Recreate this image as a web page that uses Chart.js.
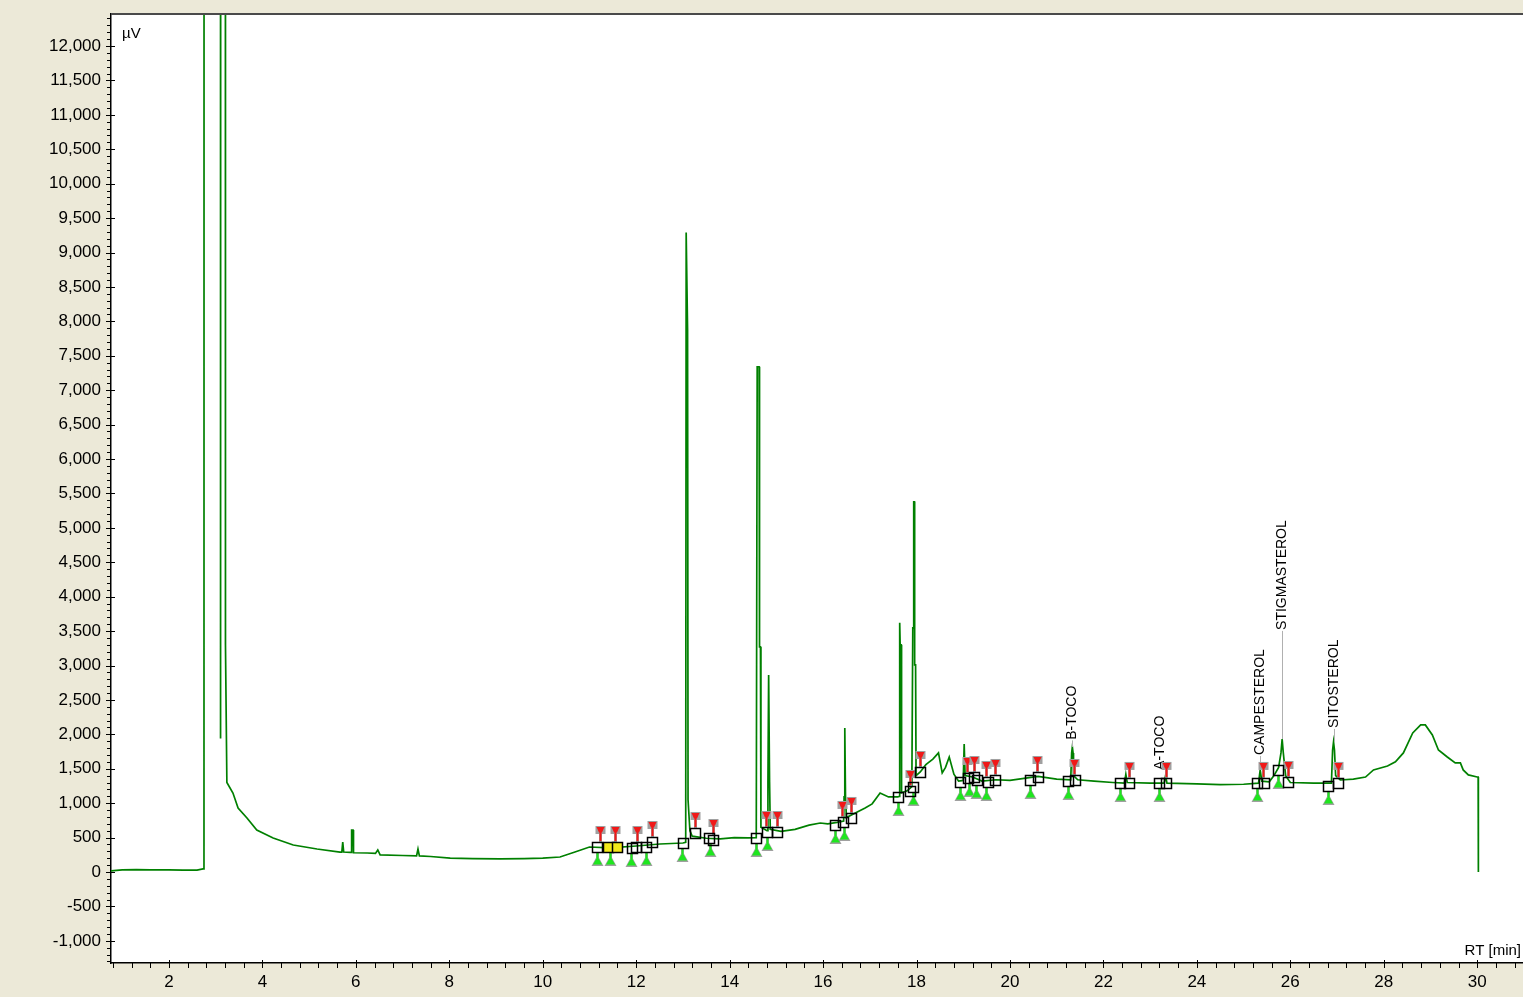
<!DOCTYPE html>
<html lang="en">
	<head>
		<meta charset="utf-8" />
		<title>Chromatogram</title>
		<script src="https://cdn.jsdelivr.net/npm/chart.js@4.4.1/dist/chart.umd.min.js"></script>
		<style>
			body { margin: 0; background: #ECE9D8; }
			canvas { display: block; }
		</style>
	</head>
	<body>

		<canvas id="myChart" width="1523" height="997"></canvas>
		<script type="text/javascript">

			// retention time (min) and signal (uV)
			const traceRT = [
				0.76, 1.0, 1.3, 1.6, 2.0, 2.3, 2.6, 2.73, 2.75, 2.755,
				3.10, 3.105, 3.115, 3.20, 3.21, 3.24, 3.37, 3.48, 3.67, 3.88,
				4.23, 4.66, 5.17, 5.66, 5.70, 5.72, 5.74, 5.88, 5.90, 5.91,
				5.94, 5.95, 6.24, 6.42, 6.47, 6.52, 7.0, 7.30, 7.33, 7.36,
				7.6, 8.02, 8.5, 9.09, 9.6, 10.0, 10.37, 10.69, 11.0, 11.44,
				12.0, 12.51, 13.0, 13.06, 13.07, 13.10, 13.11, 13.15, 13.2, 13.5,
				13.8, 14.1, 14.4, 14.57, 14.59, 14.63, 14.64, 14.66, 14.67, 14.80,
				14.82, 14.835, 14.855, 14.87, 15.1, 15.4, 15.7, 15.94, 16.1, 16.3,
				16.44, 16.45, 16.465, 16.48, 16.50, 16.7, 16.9, 17.05, 17.22, 17.4,
				17.6, 17.63, 17.64, 17.65, 17.67, 17.68, 17.8, 17.9, 17.92, 17.935,
				17.94, 17.955, 17.96, 17.98, 17.99, 18.08, 18.2, 18.35, 18.47, 18.55,
				18.62, 18.70, 18.80, 18.9, 19.0, 19.02, 19.04, 19.2, 19.4, 19.7,
				20.0, 20.3, 20.6, 21.0, 21.3, 21.32, 21.335, 21.35, 21.36, 21.45,
				21.8, 22.2, 22.45, 22.48, 22.51, 23.0, 23.3, 23.33, 23.36, 24.0,
				24.5, 25.0, 25.32, 25.355, 25.39, 25.55, 25.65, 25.75, 25.80, 25.825,
				25.85, 25.90, 26.0, 26.5, 26.88, 26.905, 26.925, 26.945, 26.97, 27.07,
				27.35, 27.61, 27.78, 28.08, 28.25, 28.42, 28.62, 28.79, 28.89, 29.04,
				29.17, 29.36, 29.53, 29.64, 29.70, 29.81, 30.0, 30.02, 30.025
			];
			const traceUV = [
				15, 30, 35, 32, 30, 28, 28, 45, 60, 60000,
				60000, 1940, 60000, 60000, 3300, 1300, 1148, 930, 785, 610,
				494, 392, 334, 290, 290, 436, 290, 285, 285, 610,
				610, 280, 276, 270, 320, 250, 240, 235, 334, 233,
				225, 203, 195, 190, 195, 203, 218, 290, 363, 350,
				378, 407, 421, 430, 9290, 7880, 1050, 600, 520, 490,
				480, 500, 495, 500, 7340, 7340, 3270, 3270, 650, 600,
				1308, 2863, 1308, 620, 590, 620, 680, 712, 700, 720,
				740, 1090, 2093, 1090, 790, 860, 930, 990, 1148, 1090,
				1090, 1100, 3620, 3300, 3300, 1150, 1180, 1240, 3546, 3546,
				5378, 5378, 3010, 3010, 1400, 1453, 1560, 1640, 1730, 1440,
				1520, 1670, 1420, 1320, 1330, 1860, 1400, 1380, 1320, 1340,
				1330, 1360, 1390, 1350, 1340, 1730, 1817, 1730, 1400, 1340,
				1320, 1300, 1290, 1420, 1300, 1290, 1290, 1400, 1290, 1280,
				1270, 1275, 1290, 1483, 1320, 1310, 1400, 1520, 1730, 1930,
				1730, 1400, 1300, 1290, 1290, 1773, 1890, 1773, 1400, 1337,
				1350, 1380, 1483, 1540, 1600, 1730, 2020, 2137, 2137, 1990,
				1773, 1671, 1584, 1584, 1483, 1410, 1380, 1380, 0
			];

			// integration boxes
			const boxRT = [11.16, 11.40, 11.59, 11.91, 12.00, 12.21, 12.34, 13.00, 13.26, 13.56,
				13.65, 14.57, 14.81, 15.02, 16.26, 16.43, 16.60, 17.61, 17.85, 17.93,
				18.08, 18.94, 19.11, 19.22, 19.30, 19.52, 19.69, 20.42, 20.59, 21.25,
				21.40, 22.36, 22.54, 23.18, 23.33, 25.28, 25.43, 25.73, 25.96, 26.80, 27.03];
			const boxUV = [363, 363, 363, 350, 363, 363, 436, 421, 567, 494,
				465, 494, 581, 581, 683, 727, 785, 1090, 1177, 1235,
				1453, 1308, 1366, 1380, 1337, 1308, 1337, 1337, 1380, 1323,
				1337, 1294, 1294, 1294, 1294, 1294, 1294, 1483, 1308, 1250, 1294];
			const selectedRT = [11.40, 11.59];

			// peak end markers (red) and peak start markers (green)
			const endRT = [11.23, 11.55, 12.02, 12.34, 13.26, 13.65, 14.78, 15.02, 16.41, 16.60,
				17.85, 18.08, 19.09, 19.22, 19.49, 19.67, 20.57, 21.36, 22.54, 23.33,
				25.41, 25.96, 27.03];
			const endUV = [363, 363, 363, 436, 567, 465, 581, 581, 727, 785,
				1177, 1453, 1366, 1380, 1308, 1337, 1380, 1337, 1294, 1294,
				1294, 1308, 1294];
			const startRT = [11.16, 11.44, 11.89, 12.21, 12.98, 13.58, 14.57, 14.81, 16.26, 16.45,
				17.61, 17.93, 18.92, 19.13, 19.28, 19.49, 20.42, 21.25, 22.36, 23.18,
				25.28, 25.73, 26.80];
			const startUV = [363, 363, 350, 363, 421, 494, 494, 581, 683, 727,
				1090, 1235, 1308, 1366, 1337, 1308, 1337, 1323, 1294, 1294,
				1294, 1483, 1250];

			// named peaks
			const peakNames = ['B-TOCO', 'A-TOCO', 'CAMPESTEROL', 'STIGMASTEROL', 'SITOSTEROL'];
			const peakRT = [21.32, 23.22, 25.36, 25.83, 26.93];
			const peakUV = [1817, 1483, 1483, 1930, 1890];
			const peakLabelUV = [1920, 1483, 1700, 3517, 2093];

			// axes
			const xTicks = [2, 4, 6, 8, 10, 12, 14, 16, 18, 20, 22, 24, 26, 28, 30];
			const yTicks = [-1000, -500, 0, 500, 1000, 1500, 2000, 2500, 3000, 3500, 4000, 4500, 5000,
				5500, 6000, 6500, 7000, 7500, 8000, 8500, 9000, 9500, 10000, 10500, 11000, 11500, 12000];

			const FONT = 'Liberation Sans, Arial, sans-serif';

			const decor = {
				id: 'decor',
				beforeDraw(chart) {
					const {ctx, chartArea: a} = chart;
					ctx.save();
					ctx.fillStyle = '#ECE9D8';
					ctx.fillRect(0, 0, chart.width, chart.height);
					ctx.fillStyle = '#ffffff';
					ctx.fillRect(a.left, a.top, a.right - a.left, a.bottom - a.top);
					ctx.restore();
				},
				afterDatasetsDraw(chart) {
					const {ctx, chartArea: a} = chart;
					const xs = chart.scales.x, ys = chart.scales.y;
					ctx.save();

					// top frame line
					ctx.strokeStyle = '#4a4a4a';
					ctx.lineWidth = 2;
					ctx.beginPath();
					ctx.moveTo(a.left, a.top);
					ctx.lineTo(a.right, a.top);
					ctx.stroke();

					// peak labels with leader lines
					peakNames.forEach((name, i) => {
						const px = Math.round(xs.getPixelForValue(peakRT[i])) + 0.5;
						const pl = ys.getPixelForValue(peakLabelUV[i]);
						const pp = ys.getPixelForValue(peakUV[i]);
						if (pp > pl + 2) {
							ctx.strokeStyle = '#b0b0b0';
							ctx.lineWidth = 1;
							ctx.beginPath();
							ctx.moveTo(px, pl + 1);
							ctx.lineTo(px, pp);
							ctx.stroke();
						}
						ctx.save();
						ctx.translate(px, pl);
						ctx.rotate(-Math.PI / 2);
						ctx.fillStyle = '#000';
						ctx.font = '14px ' + FONT;
						ctx.textAlign = 'left';
						ctx.textBaseline = 'middle';
						ctx.fillText(name, 0, 0);
						ctx.restore();
					});

					// start markers (green, below)
					startRT.forEach((rt, i) => {
						const px = Math.round(xs.getPixelForValue(rt)) + 0.5;
						const py = ys.getPixelForValue(startUV[i]);
						ctx.strokeStyle = '#a0a0a0';
						ctx.lineWidth = 3;
						ctx.beginPath();
						ctx.moveTo(px, py + 5);
						ctx.lineTo(px, py + 12);
						ctx.stroke();
						ctx.fillStyle = '#a0a0a0';
						ctx.beginPath();
						ctx.moveTo(px, py + 8);
						ctx.lineTo(px + 6, py + 19);
						ctx.lineTo(px - 6, py + 19);
						ctx.closePath();
						ctx.fill();
						ctx.fillStyle = '#1ee61e';
						ctx.beginPath();
						ctx.moveTo(px, py + 9.5);
						ctx.lineTo(px + 4.5, py + 17.5);
						ctx.lineTo(px - 4.5, py + 17.5);
						ctx.closePath();
						ctx.fill();
						ctx.fillRect(px - 1, py + 5, 2, 6);
					});

					// end markers (red, above)
					endRT.forEach((rt, i) => {
						const px = Math.round(xs.getPixelForValue(rt)) + 0.5;
						const py = ys.getPixelForValue(endUV[i]);
						ctx.strokeStyle = '#a0a0a0';
						ctx.lineWidth = 3;
						ctx.beginPath();
						ctx.moveTo(px, py - 5);
						ctx.lineTo(px, py - 13);
						ctx.stroke();
						ctx.fillStyle = '#a0a0a0';
						ctx.fillRect(px - 5, py - 21, 10, 8);
						ctx.fillStyle = '#f01818';
						ctx.beginPath();
						ctx.moveTo(px - 4, py - 20);
						ctx.lineTo(px + 4, py - 20);
						ctx.lineTo(px + 1.5, py - 14.5);
						ctx.lineTo(px - 1.5, py - 14.5);
						ctx.closePath();
						ctx.fill();
						ctx.fillRect(px - 1, py - 15, 2, 9);
					});

					// integration boxes
					boxRT.forEach((rt, i) => {
						const px = Math.round(xs.getPixelForValue(rt)) + 0.5;
						const py = Math.round(ys.getPixelForValue(boxUV[i])) + 0.5;
						if (selectedRT.includes(rt)) {
							ctx.fillStyle = '#f2e81a';
							ctx.fillRect(px - 5, py - 5, 10, 10);
						}
						ctx.strokeStyle = '#000';
						ctx.lineWidth = 1.5;
						ctx.strokeRect(px - 5, py - 5, 10, 10);
					});

					// minor tick marks and major ticks
					ctx.strokeStyle = '#000';
					ctx.lineWidth = 1;
					for (let v = -1300; v <= 12400; v += 100) {
						const py = Math.round(ys.getPixelForValue(v)) + 0.5;
						const major = v % 500 === 0;
						ctx.beginPath();
						ctx.moveTo(a.left - (major ? 5 : 4), py);
						ctx.lineTo(a.left + (major ? 4 : 0), py);
						ctx.stroke();
					}
					for (let k = 2; k <= 77; k++) {
						const t = k * 0.4;
						const px = Math.round(xs.getPixelForValue(t)) + 0.5;
						const major = Math.abs(t / 2 - Math.round(t / 2)) < 1e-6;
						ctx.beginPath();
						ctx.moveTo(px, a.bottom + (major ? -3 : 0));
						ctx.lineTo(px, a.bottom + 5);
						ctx.stroke();
					}

					// axis units
					ctx.fillStyle = '#000';
					ctx.font = '15px ' + FONT;
					ctx.textBaseline = 'alphabetic';
					ctx.textAlign = 'left';
					ctx.fillText('\u00b5V', a.left + 11, a.top + 24);
					ctx.textAlign = 'right';
					ctx.fillText('RT [min]', a.right - 2, a.bottom - 8);

					ctx.restore();
				}
			};

			createChart();

			function createChart()
			{
				const points = traceRT.map((rt, i) => ({x: rt, y: traceUV[i]}));

				const ctx = document.getElementById('myChart').getContext('2d');
				const myChart = new Chart(ctx, {
					type: 'line',
					data: {
						datasets: [{
							label: 'signal',
							data: points,
							borderColor: 'rgb(0, 128, 0)',
							borderWidth: 1.7,
							pointRadius: 0,
							tension: 0,
							fill: false
						}]
					},
					options: {
						responsive: false,
						animation: false,
						layout: { padding: { top: 14, left: 0, right: 0, bottom: 0 } },
						plugins: {
							legend: { display: false },
							tooltip: { enabled: false }
						},
						scales: {
							x: {
								type: 'linear',
								min: 0.76,
								max: 30.98,
								afterBuildTicks: s => { s.ticks = xTicks.map(v => ({value: v})); },
								afterFit: s => { s.height = 34; s.paddingLeft = 0; s.paddingRight = 0; },
								grid: { display: false, drawTicks: false },
								border: { display: true, color: '#000', width: 1.5 },
								ticks: {
									color: '#000',
									font: { family: FONT, size: 17 },
									padding: 9,
									maxRotation: 0,
									callback: v => String(v)
								}
							},
							y: {
								type: 'linear',
								min: -1322,
								max: 12465,
								afterBuildTicks: s => { s.ticks = yTicks.map(v => ({value: v})); },
								afterFit: s => { s.width = 111; s.paddingTop = 0; s.paddingBottom = 0; },
								grid: { display: false, drawTicks: false },
								border: { display: true, color: '#000', width: 1.5 },
								ticks: {
									color: '#000',
									font: { family: FONT, size: 17 },
									padding: 10,
									callback: v => v.toLocaleString('en-US')
								}
							}
						}
					},
					plugins: [decor]
				});
			}
		</script>
	</body>
</html>
